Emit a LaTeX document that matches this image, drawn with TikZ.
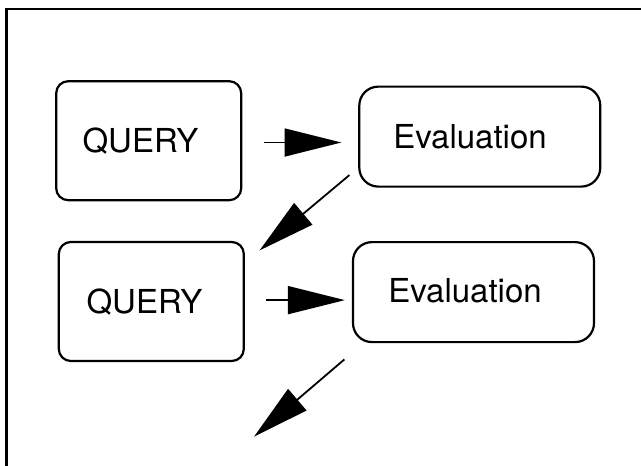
\documentclass[tikz,border=0pt]{standalone}
\usepackage{fontspec}
\setmainfont{TeX Gyre Heros}
\usetikzlibrary{arrows.meta,calc}

\tikzset{
  qbox/.style={draw, line width=2.2pt, rounded corners=12pt, inner sep=0pt,
               minimum width=185pt, minimum height=119pt},
  ebox/.style={draw, line width=2.2pt, rounded corners=19pt, inner sep=0pt,
               minimum width=241pt, minimum height=100pt},
  lbl/.style={anchor=base, inner sep=0pt, font=\fontsize{33}{39}\selectfont},
  flow/.style={line width=1.8pt, -{Triangle[length=57pt,width=28pt]}}
}

\begin{document}
\begin{tikzpicture}[x=1pt, y=-1pt]
  \useasboundingbox (0,0) rectangle (641,466);
  \begin{scope}
    \clip (0,0) rectangle (641,466);
    % outer frame, running off the right and bottom edges
    \draw[line width=2.2pt] (6.5,9) rectangle (700,520);
  \end{scope}

  % boxes
  \node[qbox] (q1) at (148.7,140.7) {};
  \node[ebox] (e1) at (479.8,136.6) {};
  \node[qbox] (q2) at (151.3,301.5) {};
  \node[ebox] (e2) at (473.5,292.1) {};

  % labels
  \node[lbl] (q1t) at (140.5,152.5) {QUERY};
  \node[lbl] (e1t) at (470,148) {Evaluation};
  \node[lbl] (q2t) at (144.5,313.5) {QUERY};
  \node[lbl] (e2t) at (465,302.5) {Evaluation};

  % flow arrows
  \draw[flow] ($(q1.east)+(22,1.8)$) -- ($(e1.west)+(-16.7,5.9)$);
  \draw[flow] ($(q2.east)+(21.3,-1.4)$) -- ($(e2.west)+(-7,8)$);
  \draw[flow] ($(e1.south west)+(-8.8,-12.6)$) -- ($(q2.north east)+(14.7,9.5)$);
  \coordinate (next) at (254,436.7);
  \draw[flow] ($(e2.south west)+(-7.5,16.2)$) -- (next);
\end{tikzpicture}
\end{document}
